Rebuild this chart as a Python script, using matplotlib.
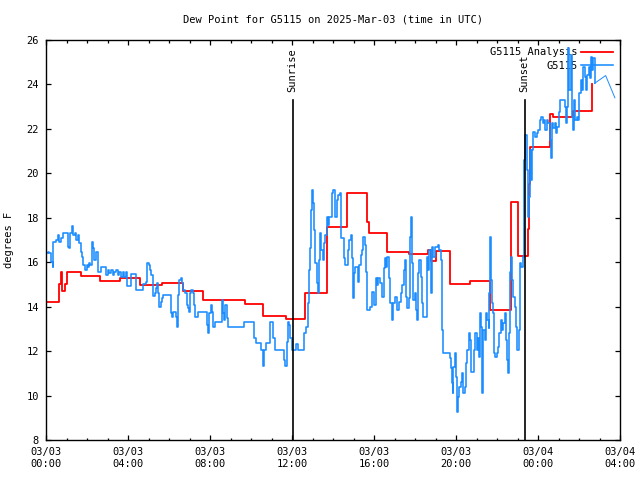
import matplotlib
matplotlib.use('Agg')
import matplotlib.pyplot as plt
from matplotlib.ticker import MultipleLocator

plt.rcParams['font.family'] = ['DejaVu Sans Mono']
plt.rcParams['font.size'] = 7.5

# hours since 03/03 00:00 UTC
obs_hours = [0.00, 0.08, 0.16, 0.24, 0.33, 0.36, 0.49, 0.57, 0.65, 0.73, 0.81, 0.98, 1.06, 1.14, 1.19, 1.27,
             1.33, 1.41, 1.46, 1.54, 1.63, 1.71, 1.76, 1.82, 1.90, 1.98, 2.03, 2.11, 2.16, 2.23, 2.28, 2.36,
             2.44, 2.52, 2.68, 2.93, 3.01, 3.09, 3.17, 3.25, 3.33, 3.41, 3.50, 3.58, 3.66, 3.74, 3.82, 3.90,
             3.95, 4.15, 4.39, 4.75, 4.88, 4.94, 5.01, 5.07, 5.14, 5.20, 5.30, 5.37, 5.43, 5.48, 5.53, 5.59,
             5.66, 5.72, 6.10, 6.16, 6.21, 6.34, 6.41, 6.46, 6.50, 6.57, 6.63, 6.70, 6.76, 6.86, 6.94, 6.99,
             7.02, 7.09, 7.15, 7.22, 7.28, 7.43, 7.84, 7.92, 7.97, 8.03, 8.08, 8.16, 8.24, 8.57, 8.62, 8.68,
             8.75, 8.81, 8.86, 9.68, 10.16, 10.25, 10.49, 10.57, 10.65, 10.73, 10.93, 11.09, 11.19, 11.63,
             11.68, 11.74, 11.79, 11.84, 11.92, 11.99, 12.20, 12.28, 12.60, 12.68, 12.77, 12.81, 12.88, 12.93,
             12.98, 13.04, 13.09, 13.14, 13.20, 13.25, 13.30, 13.37, 13.43, 13.50, 13.56, 13.63, 13.69, 13.76,
             13.82, 13.93, 14.01, 14.09, 14.18, 14.26, 14.34, 14.39, 14.53, 14.60, 14.74, 14.79, 14.86, 14.91,
             14.96, 14.99, 15.02, 15.09, 15.22, 15.28, 15.35, 15.41, 15.48, 15.54, 15.59, 15.64, 15.67, 15.80,
             15.88, 16.01, 16.08, 16.13, 16.21, 16.29, 16.37, 16.48, 16.53, 16.58, 16.65, 16.71, 16.78, 16.86,
             16.91, 17.02, 17.10, 17.23, 17.30, 17.35, 17.46, 17.51, 17.56, 17.62, 17.69, 17.75, 17.80, 17.85,
             17.92, 18.00, 18.05, 18.09, 18.14, 18.21, 18.27, 18.34, 18.40, 18.57, 18.63, 18.70, 18.76, 18.80,
             18.83, 18.89, 18.97, 19.09, 19.14, 19.19, 19.25, 19.32, 19.35, 19.64, 19.71, 19.75, 19.80, 19.84,
             19.87, 19.93, 20.00, 20.06, 20.11, 20.16, 20.23, 20.29, 20.36, 20.42, 20.49, 20.55, 20.62, 20.68,
             20.75, 20.89, 20.94, 21.01, 21.09, 21.14, 21.17, 21.20, 21.27, 21.33, 21.40, 21.46, 21.53, 21.59,
             21.62, 21.66, 21.71, 21.75, 21.82, 21.85, 21.92, 21.98, 22.05, 22.11, 22.18, 22.24, 22.31, 22.37,
             22.44, 22.50, 22.55, 22.60, 22.65, 22.70, 22.75, 22.80, 22.86, 22.93, 22.99, 23.06, 23.09, 23.14,
             23.19, 23.25, 23.30, 23.33, 23.38, 23.45, 23.49, 23.54, 23.61, 23.66, 23.71, 23.77, 23.85, 23.93,
             24.01, 24.10, 24.16, 24.23, 24.29, 24.36, 24.42, 24.50, 24.58, 24.63, 24.68, 24.75, 24.81, 24.88,
             24.94, 25.01, 25.07, 25.23, 25.30, 25.36, 25.43, 25.48, 25.53, 25.59, 25.64, 25.69, 25.75, 25.82,
             25.88, 25.97, 26.01, 26.08, 26.14, 26.21, 26.27, 26.34, 26.40, 26.47, 26.53, 26.58, 26.63, 26.70,
             26.76]
obs_dewpt = [16.40, 16.48, 16.40, 16.03, 15.80, 16.93, 17.00, 17.23, 16.93, 17.08, 17.30, 17.30, 16.70, 16.63, 17.30, 17.63,
             17.23, 17.30, 17.00, 17.23, 16.85, 16.48, 16.25, 15.88, 15.65, 15.88, 15.80, 15.95, 15.88, 16.90, 16.63, 16.10,
             16.48, 15.58, 15.80, 15.43, 15.65, 15.50, 15.65, 15.43, 15.58, 15.65, 15.43, 15.58, 15.35, 15.58, 15.35, 15.58,
             14.95, 15.45, 14.75, 15.00, 15.13, 15.98, 15.88, 15.65, 15.43, 14.48, 14.60, 14.83, 15.05, 14.60, 14.00, 14.23,
             14.38, 14.53, 13.70, 13.55, 13.78, 13.55, 13.07, 14.53, 15.20, 15.28, 15.05, 14.75, 14.60, 14.08, 13.93, 13.78,
             14.60, 14.75, 14.60, 14.08, 13.55, 13.78, 13.18, 12.80, 13.70, 14.08, 13.78, 13.10, 13.33, 14.30, 13.70, 13.40,
             14.08, 13.48, 13.07, 13.30, 12.58, 12.35, 12.05, 11.33, 12.05, 12.35, 13.30, 12.58, 12.05, 11.60,
             11.33, 12.43, 13.30, 13.18, 12.58, 12.05, 12.32, 12.05, 12.80, 13.10, 14.15, 15.65, 16.63, 18.35,
             19.25, 18.65, 17.45, 15.95, 15.05, 14.60, 16.10, 17.30, 16.55, 16.10, 16.85, 17.23, 18.05, 17.68,
             18.05, 19.10, 19.25, 18.05, 18.80, 19.03, 19.13, 17.08, 16.18, 15.88, 16.55, 17.00, 17.23, 16.18,
             15.05, 14.38, 15.50, 15.80, 15.13, 15.88, 16.33, 16.55, 17.15, 16.78, 15.58, 14.75, 13.85, 14.00,
             14.68, 14.08, 15.28, 14.98, 15.28, 15.05, 14.45, 15.73, 16.18, 15.80, 16.25, 15.28, 14.15, 13.40,
             14.15, 14.45, 13.85, 14.23, 14.60, 14.98, 15.65, 16.10, 14.45, 13.93, 14.38, 17.15, 18.05, 15.95,
             14.30, 14.60, 13.85, 13.40, 15.50, 16.10, 15.35, 14.15, 13.55, 16.25, 15.65, 16.55, 15.95, 14.60,
             16.70, 16.25, 16.70, 16.70, 16.78, 16.55, 16.10, 12.95, 11.90, 11.90, 11.68, 11.23, 10.55, 10.10,
             11.30, 11.90, 10.85, 9.28, 9.95, 10.40, 10.63, 11.00, 10.10, 10.40, 11.45, 12.05, 12.80, 12.50,
             11.08, 12.05, 12.80, 12.05, 12.58, 11.75, 13.70, 13.10, 10.10, 12.95, 12.50, 13.70, 13.40, 13.03,
             14.60, 17.15, 15.20, 14.15, 13.70, 11.90, 11.75, 11.90, 12.20, 12.80, 13.40, 12.95, 13.25, 13.70,
             12.50, 11.60, 11.00, 12.80, 15.58, 16.25, 15.20, 14.45, 14.00, 13.10, 12.05, 12.05, 12.95, 15.95,
             15.80, 16.25, 17.68, 20.60, 21.73, 20.15, 18.05, 18.95, 21.05, 19.70, 21.05, 21.88, 21.65, 21.80,
             21.95, 22.40, 22.55, 22.25, 22.40, 21.95, 22.40, 22.25, 21.50, 20.68, 22.25, 22.03, 22.25, 21.80,
             22.10, 22.78, 23.30, 23.30, 23.00, 22.25, 23.00, 25.63, 23.75, 25.33, 22.55, 21.95, 23.30, 22.40,
             22.55, 22.40, 23.60, 24.20, 23.75, 24.80, 24.35, 23.75, 24.43, 24.80, 24.28, 25.25, 24.65, 25.18,
             24.05]
tail_hours = [26.76, 27.30, 27.75]
tail_dewpt = [24.05, 24.40, 23.40]

ana_hours = [0.0, 0.65, 0.72, 0.80, 0.95, 1.0, 1.7, 2.63, 3.6, 4.6, 5.67, 6.67, 7.67, 9.7, 10.6, 11.7,
             12.65, 13.7, 14.7, 15.67, 15.75, 16.65, 17.7, 18.65, 18.8, 19.0, 19.7, 20.7, 21.66, 22.7,
             23.04, 23.5, 23.55, 23.6, 24.6, 24.75, 25.7, 26.62]
ana_dewpt = [14.2, 15.0, 15.55, 14.7, 15.0, 15.55, 15.4, 15.15, 15.3, 14.96, 15.06, 14.7, 14.3, 14.1, 13.6, 13.45,
             14.6, 17.57, 19.1, 17.8, 17.3, 16.45, 16.37, 16.55, 16.05, 16.52, 15.0, 15.15, 13.85, 18.7,
             16.3, 17.5, 19.5, 21.2, 22.65, 22.52, 22.8, 24.0]

sunrise = 12.03
sunset = 23.35

xticks = [0, 4, 8, 12, 16, 20, 24, 28]
xlabels = ['03/03\n00:00', '03/03\n04:00', '03/03\n08:00', '03/03\n12:00',
           '03/03\n16:00', '03/03\n20:00', '03/04\n00:00', '03/04\n04:00']

fig = plt.figure(figsize=(6.4, 4.8), dpi=100)
ax = fig.add_axes([46/640, 40/480, 574/640, 400/480])

ax.plot(ana_hours, ana_dewpt, color='#ff0000', lw=1.3, drawstyle='steps-post', label='G5115 Analysis', zorder=2)
ax.plot(obs_hours, obs_dewpt, color='#1a8cff', lw=1.15, drawstyle='steps-post', label='G5115', zorder=2)
ax.plot(tail_hours, tail_dewpt, color='#1a8cff', lw=0.7, zorder=2)

for h, name in [(sunrise, 'Sunrise'), (sunset, 'Sunset')]:
    ax.plot([h, h], [8, 23.3], color='black', lw=1.2, zorder=3)
    ax.text(h, 23.66, name, rotation=90, ha='center', va='bottom', fontsize=7.5)

ax.set_xlim(0, 28)
ax.set_ylim(8, 26)
ax.set_xticks(xticks)
ax.set_xticklabels(xlabels)
ax.xaxis.set_minor_locator(MultipleLocator(1))
ax.set_yticks(range(8, 27, 2))
ax.tick_params(which='both', direction='in', top=True, right=True, width=0.9)
ax.tick_params(which='major', length=3.3, pad=5)
ax.tick_params(which='minor', length=1.8)
for s in ax.spines.values():
    s.set_linewidth(1.0)

ax.set_ylabel('degrees F')
ax.yaxis.set_label_coords(-0.055, 0.5)
fig.text(333/640, 1 - 20/480, 'Dew Point for G5115 on 2025-Mar-03 (time in UTC)', ha='center', va='center')

leg = ax.legend(loc='upper right', frameon=False, markerfirst=False, handlelength=3.0,
                borderaxespad=0.3, labelspacing=0.35, handletextpad=0.4)
leg.set_zorder(1)

fig.savefig('out.png', dpi=100)
